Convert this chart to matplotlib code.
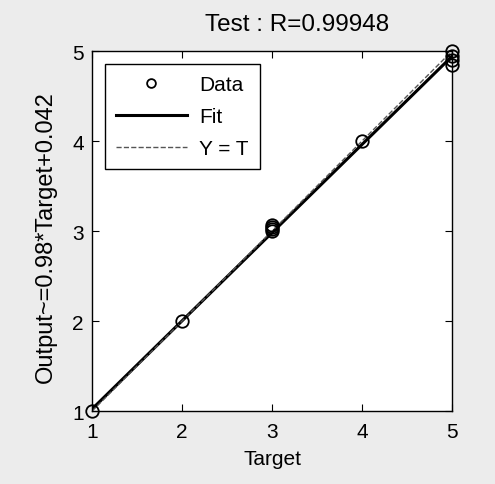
import numpy as np
import matplotlib
matplotlib.use('Agg')
from matplotlib import pyplot as plt

# 数据
targets = [1, 2, 3, 3, 3, 3, 4, 5, 5, 5, 5]
outputs = [1.0, 2.0, 3.0, 3.02, 3.05, 3.07, 4.0, 4.85, 4.9, 4.95, 5.0]
fit_slope = 0.98
fit_offset = 0.042
ticks = [1, 2, 3, 4, 5]

plt.rcParams['font.family'] = ['Liberation Sans', 'DejaVu Sans']

fig = plt.figure(figsize=(4.95, 4.85), dpi=100)
fig.patch.set_facecolor('#ececec')
ax = fig.add_axes([0.186, 0.1505, 0.727, 0.742])

# 拟合线和 Y = T
xs = np.array([1, 5])
ax.plot(xs, fit_slope * xs + fit_offset, color='k', linewidth=2.2, label='Fit')
ax.plot(xs, xs, color='#555555', linestyle='--', linewidth=1, label='Y = T')
ax.plot(targets, outputs, linestyle='none', marker='o', markersize=9,
        markerfacecolor='none', markeredgecolor='k', markeredgewidth=1.3,
        label='Data', clip_on=False)

ax.set_xlim(1, 5)
ax.set_ylim(1, 5)
ax.set_xticks(ticks)
ax.set_yticks(ticks)
ax.tick_params(direction='in', top=True, right=True, labelsize=15, length=5)
ax.tick_params(axis='x', pad=8)
ax.tick_params(axis='y', pad=6)
for s in ax.spines.values():
    s.set_linewidth(1)

ax.set_title('Test : R=0.99948', fontsize=17.5, x=0.57, pad=15)
ax.set_xlabel('Target', fontsize=15, labelpad=6)
ax.set_ylabel('Output~=0.98*Target+0.042', fontsize=17, labelpad=11)
ax.yaxis.label.set_y(0.485)

h, l = ax.get_legend_handles_labels()
leg = ax.legend([h[2], h[0], h[1]], [l[2], l[0], l[1]], loc='upper left',
                fontsize=15, fancybox=False, edgecolor='k', framealpha=1,
                handlelength=3.4, handletextpad=0.6, markerscale=0.7,
                labelspacing=0.62, borderaxespad=0.6, borderpad=0.55)
leg.get_frame().set_linewidth(1)

fig.savefig('out.png', dpi=100, facecolor=fig.get_facecolor())
